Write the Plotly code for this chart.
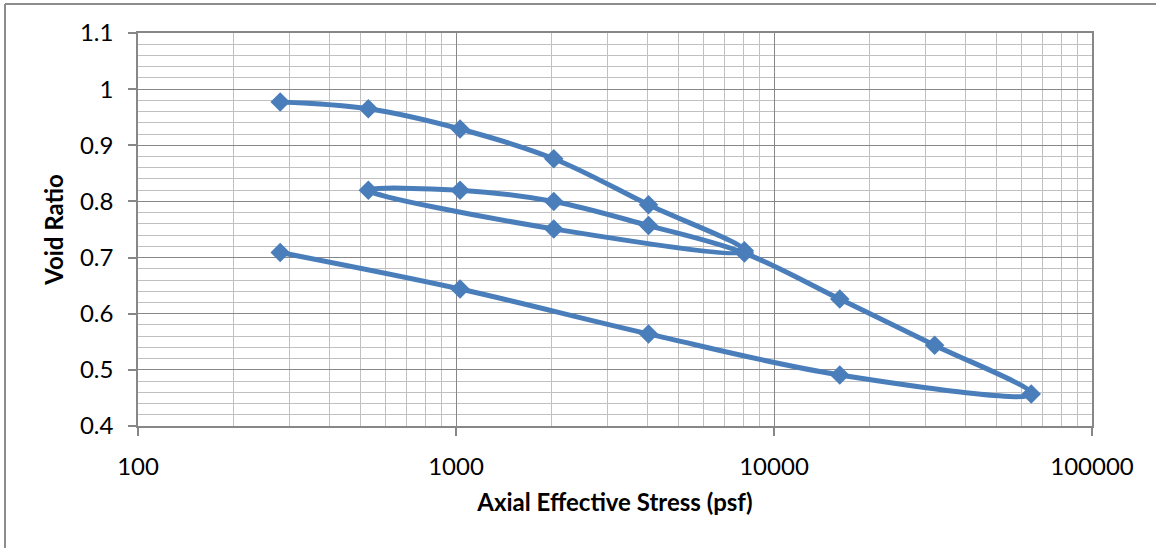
import plotly.graph_objects as go

# Data
stress_psf = [280, 530, 1030, 2030, 4030, 8070, 2030, 530, 1030, 2030, 4030, 8070,
              16100, 32000, 64400, 16100, 4030, 1030, 280]
void_ratio = [0.977, 0.965, 0.929, 0.876, 0.794, 0.712, 0.751, 0.820, 0.820, 0.800,
              0.757, 0.708, 0.626, 0.544, 0.457, 0.491, 0.564, 0.644, 0.709]

x_ticks = [100, 1000, 10000, 100000]
x_tick_labels = ["100", "1000", "10000", "100000"]
y_ticks = [0.4, 0.5, 0.6, 0.7, 0.8, 0.9, 1.0, 1.1]
y_tick_labels = ["0.4", "0.5", "0.6", "0.7", "0.8", "0.9", "1", "1.1"]
x_minor = [m * d for d in (100, 1000, 10000) for m in range(2, 10)]

COLOR = "#4A7EBB"
FONT = "Lato"

fig = go.Figure()
fig.add_trace(go.Scatter(
    x=stress_psf, y=void_ratio, mode="lines+markers",
    line=dict(color=COLOR, width=5, shape="spline", smoothing=1),
    marker=dict(symbol="diamond", size=15, color=COLOR),
    showlegend=False, hoverinfo="x+y",
))

L, R, T, B = 138, 1092, 33, 426
W, H = 1156, 548
pw, ph = R - L, B - T

def px(xp):
    return (xp - L) / pw

def py(yp):
    return (B - yp) / ph

fig.update_layout(
    width=W, height=H,
    margin=dict(l=L, r=W - R, t=T, b=H - B),
    paper_bgcolor="white", plot_bgcolor="white",
    font=dict(family=FONT, color="#000000", size=24),
    xaxis=dict(
        type="log", range=[2, 5],
        tickmode="array", tickvals=x_ticks, ticktext=x_tick_labels,
        showgrid=True, gridcolor="#878787", gridwidth=1,
        minor=dict(tickmode="array", tickvals=x_minor, showgrid=True,
                   gridcolor="#C0C0C0", gridwidth=1, ticks=""),
        showline=True, linecolor="#878787", linewidth=1.5, mirror=True,
        ticks="outside", ticklen=8, tickcolor="#878787", tickwidth=1.5,
        ticklabelstandoff=10,
        tickfont=dict(size=24, family=FONT),
        title=dict(text="<b>Axial Effective Stress (psf)</b>",
                   font=dict(size=24, family=FONT), standoff=16),
        zeroline=False,
    ),
    yaxis=dict(
        range=[0.4, 1.1],
        tickmode="array", tickvals=y_ticks, ticktext=y_tick_labels,
        showgrid=True, gridcolor="#878787", gridwidth=1,
        minor=dict(dtick=0.02, tick0=0.4, showgrid=True,
                   gridcolor="#C0C0C0", gridwidth=1, ticks=""),
        showline=True, linecolor="#878787", linewidth=1.5, mirror=True,
        ticks="outside", ticklen=8, tickcolor="#878787", tickwidth=1.5,
        ticklabelstandoff=10,
        tickfont=dict(size=24, family=FONT),
        title=dict(text="<b>Void Ratio</b>",
                   font=dict(size=24, family=FONT), standoff=10),
        zeroline=False,
    ),
    shapes=[
        dict(type="line", xref="paper", yref="paper",
             x0=px(5), x1=px(1160), y0=py(4), y1=py(4),
             line=dict(color="#8C8C8C", width=2)),
        dict(type="line", xref="paper", yref="paper",
             x0=px(5), x1=px(5), y0=py(4), y1=py(552),
             line=dict(color="#8C8C8C", width=2)),
    ],
)

fig.write_html("out.html")
